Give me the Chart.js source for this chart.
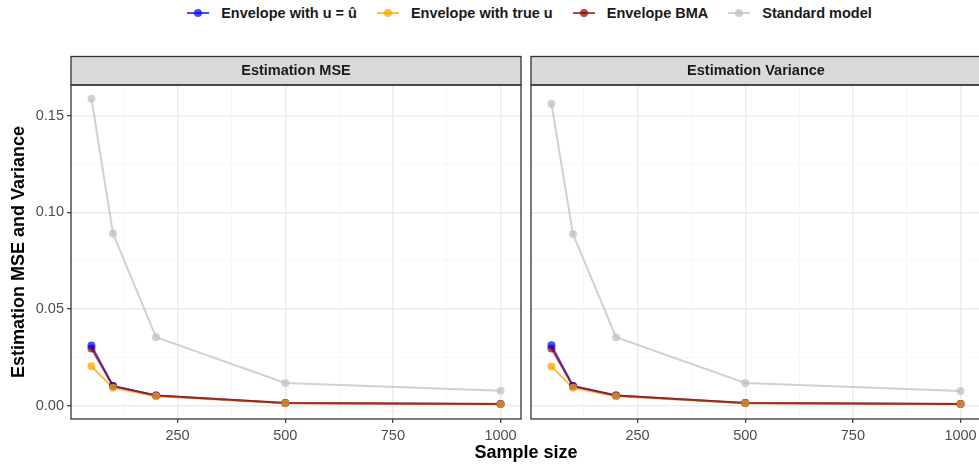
<!DOCTYPE html>
<html>
<head>
<meta charset="utf-8">
<script src="https://cdn.jsdelivr.net/npm/chart.js@4"></script>
<style>
  html, body { margin: 0; padding: 0; width: 979px; height: 465px; overflow: hidden; background: #fff; }
  body { position: relative; font-family: "Liberation Sans", Arial, sans-serif; }
  #left-wrap { position: absolute; left: 0; top: 0; width: 526px; height: 465px; }
  #right-wrap { position: absolute; left: 526px; top: 0; width: 460px; height: 465px; }
  #legend { position: absolute; top: 4px; left: 0; width: 979px; display: flex; justify-content: center; padding-left: 100px; box-sizing: border-box; }
  .item { display: flex; align-items: center; margin-right: 20px; font-weight: bold; font-size: 14.5px; color: #1a1a1a; }
  .key { position: relative; width: 22px; height: 18px; margin-right: 12px; }
  .key .ln { position: absolute; left: 0; right: 0; top: 8px; height: 2px; }
  .key .pt { position: absolute; left: 7px; top: 5px; width: 8px; height: 8px; border-radius: 50%; }
  #xtitle { position: absolute; top: 442px; left: 71px; width: 910px; text-align: center; font-weight: bold; font-size: 18px; color: #000; }
</style>
</head>
<body>
<div id="legend"></div>
<div id="left-wrap"><canvas id="mse_canvas"></canvas></div>
<div id="right-wrap"><canvas id="var_canvas"></canvas></div>
<div id="xtitle">Sample size</div>

<script>
// sample sizes on the x axis
let sample_sizes = [50, 100, 200, 500, 1000];

// Estimation MSE panel
let mse_env_hat  = [0.0312, 0.0103, 0.0054, 0.0015, 0.0009];
let mse_env_true = [0.0205, 0.0093, 0.0050, 0.0014, 0.0008];
let mse_env_bma  = [0.0296, 0.0102, 0.0054, 0.0015, 0.0009];
let mse_standard = [0.1588, 0.0891, 0.0355, 0.0118, 0.0078];

// Estimation Variance panel
let var_env_hat  = [0.0313, 0.0103, 0.0054, 0.0015, 0.0009];
let var_env_true = [0.0204, 0.0093, 0.0050, 0.0014, 0.0008];
let var_env_bma  = [0.0296, 0.0102, 0.0054, 0.0015, 0.0009];
let var_standard = [0.1562, 0.0888, 0.0355, 0.0118, 0.0077];

let series_names = ["Envelope with u = \u00fb", "Envelope with true u", "Envelope BMA", "Standard model"];
let series_colors = ["rgba(0, 0, 255, 0.7)", "rgba(255, 165, 0, 0.75)", "rgba(139, 0, 0, 0.7)", "rgba(190, 190, 190, 0.7)"];
// lower order = drawn on top; lines go under all points like ggplot layers
let line_order = [6, 5, 4, 7];
let point_order = [1, 0, 2, 3];

let x_major = [250, 500, 750, 1000];
let x_minor = [125, 375, 625, 875];
let y_major = [0, 0.05, 0.10, 0.15];
let y_minor = [0.025, 0.075, 0.125];
let y_labels = ["0.00", "0.05", "0.10", "0.15"];

document.addEventListener("DOMContentLoaded", pageLoad);

function pageLoad(){
    buildLegend();
    createPanel("mse_canvas", "Estimation MSE", [mse_env_hat, mse_env_true, mse_env_bma, mse_standard], true);
    createPanel("var_canvas", "Estimation Variance", [var_env_hat, var_env_true, var_env_bma, var_standard], false);
}

function buildLegend(){
    const legend = document.getElementById("legend");
    series_names.forEach(function(name, i){
        const item = document.createElement("div");
        item.className = "item";
        item.innerHTML = '<div class="key"><div class="ln" style="background:' + series_colors[i] + '"></div>' +
            '<div class="pt" style="background:' + series_colors[i] + '"></div></div><span>' + name + '</span>';
        legend.appendChild(item);
    });
}

// strip header + panel border, ggplot theme_bw style
const panelFrame = {
    id: "panelFrame",
    afterDraw(chart, args, opts){
        const ctx = chart.ctx;
        const a = chart.chartArea;
        ctx.save();
        ctx.fillStyle = "#d9d9d9";
        ctx.fillRect(a.left, 56, a.right - a.left, 29);
        ctx.strokeStyle = "#333333";
        ctx.lineWidth = 1.3;
        ctx.strokeRect(a.left, 56.5, a.right - a.left, 28.5);
        ctx.strokeRect(a.left, a.top, a.right - a.left, a.bottom - a.top);
        ctx.fillStyle = "#1a1a1a";
        ctx.font = "bold 14.5px 'Liberation Sans', Arial, sans-serif";
        ctx.textAlign = "center";
        ctx.textBaseline = "middle";
        ctx.fillText(opts.title, (a.left + a.right) / 2, 71);
        ctx.restore();
    }
};

function createPanel(canvasId, title, values, showY){
    const datasets = [];
    values.forEach(function(vals, i){
        const pts = sample_sizes.map(function(x, j){ return {x: x, y: vals[j]}; });
        // line layer
        datasets.push({
            label: series_names[i],
            data: pts,
            borderColor: series_colors[i],
            borderWidth: 2,
            pointRadius: 0,
            order: line_order[i]
        });
        // point layer
        datasets.push({
            label: series_names[i] + " points",
            data: pts,
            showLine: false,
            backgroundColor: series_colors[i],
            borderColor: series_colors[i],
            pointRadius: 4,
            pointBorderWidth: 0,
            order: point_order[i]
        });
    });

    const tickFont = { size: 14.5, family: "'Liberation Sans', Arial, sans-serif" };

    const config = {
        type: 'line',
        data: { datasets: datasets },
        plugins: [panelFrame],
        options: {
            responsive: false,
            animation: false,
            layout: {
                padding: { top: 85, right: 5, left: showY ? 8 : 0, bottom: 0 }
            },
            plugins: {
                legend: { display: false },
                tooltip: { enabled: false },
                panelFrame: { title: title }
            },
            scales: {
                x: {
                    type: 'linear',
                    min: 2.5,
                    max: 1047.5,
                    afterBuildTicks: function(scale){
                        scale.ticks = x_minor.concat(x_major).sort(function(a, b){ return a - b; }).map(function(v){ return {value: v}; });
                    },
                    afterFit: function(scale){ scale.height = 46; },
                    border: { display: false },
                    grid: {
                        color: function(c){ return x_major.indexOf(c.tick.value) >= 0 ? "#ebebeb" : "#f5f5f5"; },
                        lineWidth: function(c){ return x_major.indexOf(c.tick.value) >= 0 ? 1.4 : 0.8; },
                        tickColor: function(c){ return x_major.indexOf(c.tick.value) >= 0 ? "#333333" : "rgba(0,0,0,0)"; },
                        tickLength: 4,
                        tickWidth: 1.2
                    },
                    ticks: {
                        autoSkip: false,
                        maxRotation: 0,
                        padding: 4,
                        color: "#4d4d4d",
                        font: tickFont,
                        callback: function(value){ return x_major.indexOf(value) >= 0 ? String(value) : ""; }
                    }
                },
                y: {
                    type: 'linear',
                    min: -0.0068,
                    max: 0.1659,
                    afterBuildTicks: function(scale){
                        scale.ticks = y_minor.concat(y_major).sort(function(a, b){ return a - b; }).map(function(v){ return {value: v}; });
                    },
                    afterFit: function(scale){ scale.width = showY ? 63 : 5; },
                    border: { display: false },
                    title: {
                        display: showY,
                        text: "Estimation MSE and Variance",
                        color: "#000",
                        font: { size: 18, weight: "bold", family: "'Liberation Sans', Arial, sans-serif" },
                        padding: { top: 0, bottom: 0 }
                    },
                    grid: {
                        color: function(c){ return y_major.indexOf(c.tick.value) >= 0 ? "#ebebeb" : "#f5f5f5"; },
                        lineWidth: function(c){ return y_major.indexOf(c.tick.value) >= 0 ? 1.4 : 0.8; },
                        tickColor: function(c){ return (showY && y_major.indexOf(c.tick.value) >= 0) ? "#333333" : "rgba(0,0,0,0)"; },
                        tickLength: 4,
                        tickWidth: 1.2
                    },
                    ticks: {
                        display: showY,
                        autoSkip: false,
                        padding: 3,
                        color: "#4d4d4d",
                        font: tickFont,
                        callback: function(value){
                            const k = y_major.indexOf(value);
                            return k >= 0 ? y_labels[k] : "";
                        }
                    }
                }
            }
        }
    };

    const el = document.getElementById(canvasId);
    el.width = el.parentElement.clientWidth;
    el.height = el.parentElement.clientHeight;
    return new Chart(el, config);
}
</script>
</body>
</html>
